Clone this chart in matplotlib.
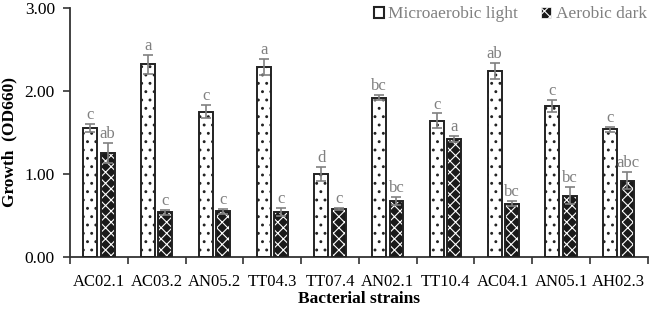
import numpy as np
import matplotlib
matplotlib.use('Agg')
from matplotlib import pyplot as plt
from matplotlib.patches import Patch

strains = ['AC02.1', 'AC03.2', 'AN05.2', 'TT04.3', 'TT07.4',
           'AN02.1', 'TT10.4', 'AC04.1', 'AN05.1', 'AH02.3']
light = [1.55, 2.32, 1.75, 2.29, 1.00, 1.92, 1.64, 2.24, 1.82, 1.54]
light_err = [0.05, 0.12, 0.08, 0.10, 0.08, 0.03, 0.09, 0.10, 0.07, 0.03]
light_letters = ['c', 'a', 'c', 'a', 'd', 'bc', 'c', 'ab', 'c', 'c']
dark = [1.25, 0.54, 0.55, 0.54, 0.58, 0.67, 1.42, 0.64, 0.74, 0.92]
dark_err = [0.12, 0.03, 0.03, 0.05, 0.01, 0.05, 0.04, 0.03, 0.10, 0.10]
dark_letters = ['ab', 'c', 'c', 'c', 'c', 'bc', 'a', 'bc', 'bc', 'abc']

plt.rcParams['font.family'] = ['Liberation Serif', 'DejaVu Serif']

gray = '#808080'
fig = plt.figure(figsize=(6.49, 3.11), dpi=100)
ax = fig.add_axes([0.108, 0.174, 0.89, 0.80])

x = np.arange(len(strains))
w = 0.24
off = 0.15

# light bars: white with dots
plt.rcParams['hatch.linewidth'] = 0.9
ax.bar(x - off, light, w, color='white', edgecolor='#222222', hatch='..', linewidth=0, zorder=2)
ax.bar(x - off, light, w, fill=False, edgecolor='#222222', linewidth=1.4, zorder=3)
# dark bars: black with white pattern
plt.rcParams['hatch.linewidth'] = 0.8
ax.bar(x + off, dark, w, color='#1a1a1a', edgecolor='white', hatch='xxx', linewidth=0, zorder=2)
ax.bar(x + off, dark, w, fill=False, edgecolor='#222222', linewidth=1.4, zorder=3)

ax.errorbar(x - off, light, yerr=light_err, fmt='none', ecolor=gray, elinewidth=1.2,
            capsize=3.5, capthick=1.2, zorder=4)
ax.errorbar(x + off, dark, yerr=dark_err, fmt='none', ecolor=gray, elinewidth=1.2,
            capsize=3.5, capthick=1.2, zorder=4)

for i in range(len(strains)):
    ax.text(x[i] - off, light[i] + light_err[i] + 0.01, light_letters[i], ha='center', va='bottom',
            color=gray, fontsize=12)
    ax.text(x[i] + off, dark[i] + dark_err[i] + 0.01, dark_letters[i], ha='center', va='bottom',
            color=gray, fontsize=12)

ax.set_xlim(-0.5, len(strains) - 0.5)
ax.set_ylim(0, 3)
ax.set_yticks([0, 1, 2, 3])
ax.set_yticklabels(['%.2f' % v for v in [0, 1, 2, 3]], fontsize=12.5)
ax.set_xticks(x)
ax.set_xticklabels(strains, fontsize=12)
ax.tick_params(axis='x', length=0, pad=12)
ax.set_xticks(np.arange(-0.5, len(strains), 1), minor=True)
ax.tick_params(axis='x', which='minor', length=5, width=1.2, color='#333333')
ax.tick_params(axis='y', length=5, width=1.2, color='#333333', pad=6)

for s in ['top', 'right']:
    ax.spines[s].set_visible(False)
for s in ['left', 'bottom']:
    ax.spines[s].set_linewidth(1.3)
    ax.spines[s].set_color('#333333')

ax.set_xlabel('Bacterial strains', fontsize=12.5, fontweight='bold', labelpad=1)
ax.set_ylabel('Growth  (OD660)', fontsize=12.5, fontweight='bold')
ax.yaxis.set_label_coords(-0.092, 0.46)

handles = [Patch(facecolor='white', edgecolor='#222222', linewidth=1.5),
           Patch(facecolor='#1a1a1a', edgecolor='white', hatch='xxx', linewidth=0.5)]
leg = ax.legend(handles, ['Microaerobic light', 'Aerobic dark'], loc='upper right',
                bbox_to_anchor=(1.025, 1.07), ncol=2, frameon=False, fontsize=12.5,
                handlelength=0.6, handleheight=0.6, handletextpad=0.25, columnspacing=1.3)
for t in leg.get_texts():
    t.set_color(gray)

fig.savefig('out.png', dpi=100)
